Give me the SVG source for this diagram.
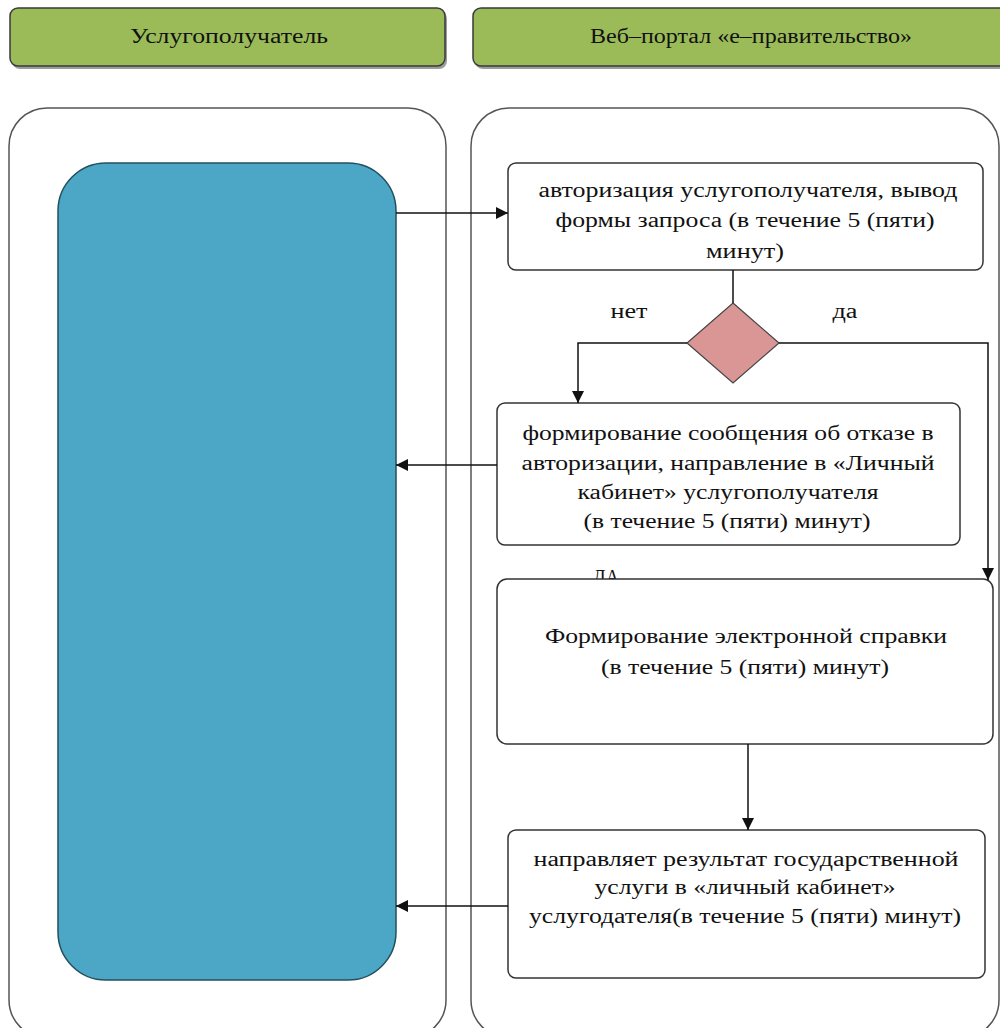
<svg xmlns="http://www.w3.org/2000/svg" width="1000" height="1028" viewBox="0 0 1000 1028">
<style>
.hdr{fill:#9BBB59;stroke:#3a3a3a;stroke-width:1.5}
.shd{fill:#4a4a4a;opacity:0.55}
.lane{fill:#fff;stroke:#555;stroke-width:1.5}
.box{fill:#fff;stroke:#333;stroke-width:1.5}
.t{font-family:'Liberation Serif',Tinos,'Times New Roman',Times,'Noto Serif','DejaVu Serif',serif;font-size:20px;fill:#111;text-anchor:middle}
.ht{font-family:'Liberation Serif',Tinos,'Times New Roman',Times,'Noto Serif','DejaVu Serif',serif;font-size:20px;fill:#111;text-anchor:middle}
.c{fill:none;stroke:#111;stroke-width:1.5}
</style>
<defs>
<marker id="ahb" viewBox="0 0 10 10" refX="10" refY="5" markerWidth="12" markerHeight="12" markerUnits="userSpaceOnUse" orient="auto">
<path d="M0,0 L10,5 L0,10 z" fill="#111"/>
</marker>
</defs>
<rect width="1000" height="1028" fill="#fff"/>
<g id="header-left">
<rect class="shd" x="12" y="11" width="435" height="58" rx="8"/>
<rect class="hdr" x="10" y="8" width="435" height="58" rx="8"/>
<text class="ht" x="229" y="43" textLength="198" lengthAdjust="spacingAndGlyphs">Услугополучатель</text>
</g>
<g id="header-right">
<rect class="shd" x="475" y="11" width="540" height="58" rx="8"/>
<rect class="hdr" x="473" y="8" width="540" height="58" rx="8"/>
<text class="ht" x="751" y="43" textLength="322" lengthAdjust="spacingAndGlyphs">Веб–портал «е–правительство»</text>
</g>
<g id="lane-left"><rect class="lane" x="9" y="108" width="437" height="930" rx="38"/></g>
<g id="lane-right"><rect class="lane" x="471" y="108" width="528" height="930" rx="38"/></g>
<g id="client"><rect x="58" y="163" width="338" height="817" rx="48" fill="#4BA7C5" stroke="#23505f" stroke-width="1.5"/></g>
<g id="auth">
<rect class="box" x="508" y="163" width="475" height="107" rx="8"/>
<text class="t" x="748" y="197" textLength="419" lengthAdjust="spacingAndGlyphs">авторизация услугополучателя, вывод</text>
<text class="t" x="745" y="227" textLength="379" lengthAdjust="spacingAndGlyphs">формы запроса  (в течение 5 (пяти)</text>
<text class="t" x="745" y="258" textLength="78" lengthAdjust="spacingAndGlyphs">минут)</text>
</g>
<g id="decision">
<polygon points="733,303 779,343 733,383 687,343" fill="#D99694" stroke="#444" stroke-width="1.2"/>
</g>
<g id="label-net"><text class="t" x="629" y="318" textLength="37" lengthAdjust="spacingAndGlyphs">нет</text></g>
<g id="label-da"><text class="t" x="845" y="318" textLength="25" lengthAdjust="spacingAndGlyphs">да</text></g>
<g id="label-da2"><text class="t" x="606" y="584" textLength="26" lengthAdjust="spacingAndGlyphs">ДА</text></g>
<g id="refusal">
<rect class="box" x="497" y="403" width="463" height="142" rx="8"/>
<text class="t" x="728" y="440" textLength="411" lengthAdjust="spacingAndGlyphs">формирование сообщения об отказе в</text>
<text class="t" x="728" y="470" textLength="413" lengthAdjust="spacingAndGlyphs">авторизации, направление в «Личный</text>
<text class="t" x="728" y="499" textLength="301" lengthAdjust="spacingAndGlyphs">кабинет» услугополучателя</text>
<text class="t" x="727" y="528" textLength="287" lengthAdjust="spacingAndGlyphs">(в течение 5 (пяти) минут)</text>
</g>
<g id="certificate">
<rect class="box" x="497" y="579" width="496" height="165" rx="10"/>
<text class="t" x="746" y="643" textLength="402" lengthAdjust="spacingAndGlyphs">Формирование электронной справки</text>
<text class="t" x="745" y="674" textLength="288" lengthAdjust="spacingAndGlyphs">(в течение 5 (пяти) минут)</text>
</g>
<g id="result">
<rect class="box" x="508" y="830" width="477" height="148" rx="8"/>
<text class="t" x="746" y="866" textLength="425" lengthAdjust="spacingAndGlyphs">направляет результат государственной</text>
<text class="t" x="745" y="894" textLength="301" lengthAdjust="spacingAndGlyphs">услуги в «личный кабинет»</text>
<text class="t" x="745" y="923" textLength="432" lengthAdjust="spacingAndGlyphs">услугодателя(в течение 5 (пяти) минут)</text>
</g>
<g id="connectors">
<path class="c" d="M396,213 L508,213" stroke-width="2.5" marker-end="url(#ahb)"/>
<path class="c" d="M733,270 L733,303"/>
<path class="c" d="M687,343 L578,343 L578,403" marker-end="url(#ahb)"/>
<path class="c" d="M779,343 L988,343 L988,580" marker-end="url(#ahb)"/>
<path class="c" d="M497,465 L396,465" marker-end="url(#ahb)"/>
<path class="c" d="M748,744 L748,830" marker-end="url(#ahb)"/>
<path class="c" d="M508,906 L396,906" marker-end="url(#ahb)"/>
</g>
</svg>
